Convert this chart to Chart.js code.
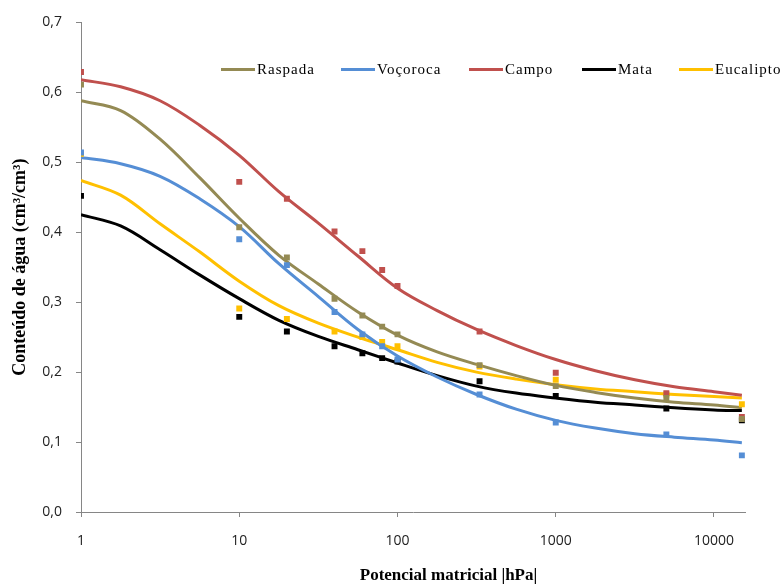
<!DOCTYPE html>
<html>
<head>
<meta charset="utf-8">
<script src="https://cdn.jsdelivr.net/npm/chart.js@4/dist/chart.umd.min.js"></script>
<style>
body{margin:0;background:#fff;}
#wrap{position:relative;width:781px;height:585px;}
.leg{position:absolute;top:60px;height:18px;font-family:"Liberation Serif","Times New Roman",serif;font-size:15px;letter-spacing:1px;color:#000;line-height:18px;white-space:nowrap;}
.leg span.ln{display:inline-block;width:34px;height:3px;vertical-align:middle;margin-right:2px;position:relative;top:-1px;}
#xt{position:absolute;left:0;width:781px;top:565px;text-align:center;padding-left:116px;box-sizing:border-box;font-family:"Liberation Serif","Times New Roman",serif;font-weight:bold;font-size:17px;}
</style>
</head>
<body>
<div id="wrap">
<canvas id="c" width="781" height="585"></canvas>
<div id="legend"></div>
<div id="xt">Potencial matricial |hPa|</div>
</div>
<script>
const nomes=["Raspada","Voçoroca","Campo","Mata","Eucalipto"];
const cores=["#948A54","#558ED5","#C0504D","#000000","#FFC000"];

// potencial (hPa) dos pontos medidos
const xObs=[1,10,20,40,60,80,100,330,1000,5000,15000];
const raspadaObs=[0.611,0.407,0.364,0.305,0.281,0.265,0.254,0.210,0.180,0.163,0.133];
const vocorocaObs=[0.514,0.390,0.353,0.286,0.254,0.237,0.218,0.168,0.128,0.111,0.081];
const campoObs=[0.629,0.472,0.448,0.401,0.373,0.346,0.323,0.258,0.199,0.170,0.136];
const mataObs=[0.452,0.279,0.258,0.237,0.227,0.220,0.215,0.187,0.166,0.148,0.131];
const eucaliptoObs=[0.512,0.291,0.276,0.258,0.250,0.243,0.237,0.208,0.189,0.168,0.154];

// curvas ajustadas
const xCurva=[1,1.78,3.16,5.62,10,17.8,31.6,56.2,100,178,316,562,1000,1780,3160,5620,10000,15000];
const raspadaCurva=[0.588,0.574,0.533,0.478,0.420,0.367,0.326,0.286,0.253,0.229,0.211,0.195,0.181,0.171,0.163,0.157,0.153,0.149];
const vocorocaCurva=[0.507,0.498,0.480,0.448,0.408,0.355,0.308,0.261,0.223,0.193,0.168,0.147,0.131,0.120,0.112,0.107,0.103,0.099];
const campoCurva=[0.618,0.608,0.588,0.553,0.510,0.458,0.413,0.366,0.320,0.288,0.261,0.238,0.218,0.202,0.189,0.179,0.172,0.167];
const mataCurva=[0.425,0.409,0.375,0.339,0.305,0.274,0.251,0.232,0.213,0.195,0.180,0.170,0.163,0.157,0.153,0.149,0.146,0.145];
const eucaliptoCurva=[0.474,0.453,0.412,0.372,0.330,0.295,0.270,0.250,0.232,0.214,0.200,0.190,0.182,0.176,0.172,0.168,0.165,0.163];

const xTicks=[1,10,100,1000,10000];
const yTicks=[0,0.1,0.2,0.3,0.4,0.5,0.6,0.7];

const obs=[raspadaObs,vocorocaObs,campoObs,mataObs,eucaliptoObs];
const curvas=[raspadaCurva,vocorocaCurva,campoCurva,mataCurva,eucaliptoCurva];

let datasets=[];
nomes.forEach((n,i)=>{
datasets.push({
label:n,
data:xCurva.map((x,k)=>({x:x,y:curvas[i][k]})),
showLine:true,
borderColor:cores[i],
borderWidth:3,
pointRadius:0,
tension:0.35,
order:2
});
datasets.push({
label:n+" obs",
data:xObs.map((x,k)=>({x:x,y:obs[i][k]})),
showLine:false,
pointStyle:"rect",
pointRadius:4.2,
pointBackgroundColor:cores[i],
pointBorderWidth:0,
order:1
});
});

new Chart(document.getElementById("c"),{
type:"scatter",
data:{datasets:datasets},
options:{
responsive:false,
animation:false,
layout:{padding:{top:18,right:36,left:0,bottom:0}},
plugins:{legend:{display:false},tooltip:{enabled:false}},
scales:{
x:{
type:"logarithmic",
min:1,
max:15700,
afterBuildTicks:s=>{s.ticks=xTicks.map(v=>({value:v}));},
afterFit:s=>{s.height=73;},
grid:{drawOnChartArea:false,tickLength:5,color:"#868686"},
border:{color:"#868686"},
ticks:{padding:16,color:"#222",font:{family:"Open Sans",size:14},callback:v=>String(v),maxRotation:0}
},
y:{
min:0,
max:0.7,
afterBuildTicks:s=>{s.ticks=yTicks.map(v=>({value:v}));},
afterFit:s=>{s.width=81;},
grid:{drawOnChartArea:false,tickLength:5,color:"#868686"},
border:{color:"#868686"},
ticks:{padding:14,color:"#222",font:{family:"Open Sans",size:14},callback:v=>v.toFixed(1).replace(".",",")},
title:{display:true,text:"Conteúdo de água (cm³/cm³)",color:"#000",padding:{top:10,bottom:0},font:{family:"Liberation Serif",weight:"bold",size:18}}
}
}
}
});

// legenda dentro do grafico
const legX=[221,341,469,582,679];
let html="";
nomes.forEach((n,i)=>{
html+=`<div class="leg" style="left:${legX[i]}px"><span class="ln" style="background:${cores[i]}"></span>${n}</div>`;
});
document.getElementById("legend").innerHTML=html;
</script>
</body>
</html>
